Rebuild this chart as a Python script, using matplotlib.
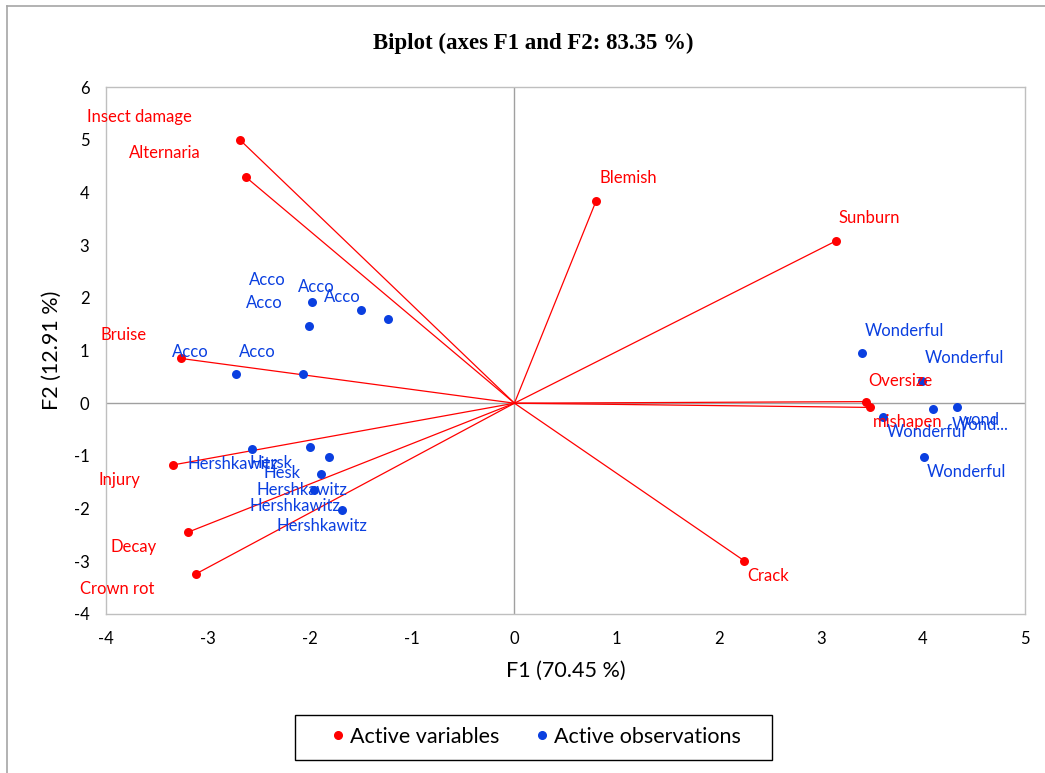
import matplotlib
matplotlib.use("Agg")
import matplotlib.pyplot as plt
from matplotlib.lines import Line2D
from matplotlib.patches import Rectangle

plt.rcParams["axes.unicode_minus"] = False

# ---------------- data ----------------
var_names = ["Insect damage", "Alternaria", "Blemish", "Sunburn", "Bruise",
             "Oversize", "mishapen", "Injury", "Decay", "Crown rot", "Crack"]
var_f1 = [-2.69, -2.63, 0.80, 3.15, -3.27, 3.44, 3.48, -3.34, -3.20, -3.12, 2.25]
var_f2 = [5.00, 4.29, 3.84, 3.08, 0.85, 0.03, -0.08, -1.17, -2.45, -3.24, -2.99]

obs_names = ["Acco", "Acco", "Acco", "Acco", "Acco", "Acco",
             "Hershkawitz", "Hersk", "Hesk", "Hershkawitz", "Hershkawitz", "Hershkawitz",
             "Wonderful", "Wonderful", "Wonderful", "Wond...", "wond", "Wonderful"]
obs_f1 = [-1.98, -1.50, -1.24, -2.01, -2.73, -2.07,
          -2.57, -2.00, -1.82, -1.89, -1.96, -1.69,
          3.40, 3.99, 3.61, 4.10, 4.33, 4.01]
obs_f2 = [1.92, 1.77, 1.59, 1.47, 0.56, 0.55,
          -0.87, -0.83, -1.02, -1.34, -1.65, -2.03,
          0.95, 0.42, -0.26, -0.11, -0.07, -1.02]

x_ticks = [-4, -3, -2, -1, 0, 1, 2, 3, 4, 5]
y_ticks = [-4, -3, -2, -1, 0, 1, 2, 3, 4, 5, 6]

title = "Biplot (axes F1 and F2: 83.35 %)"
xlabel = "F1 (70.45 %)"
ylabel = "F2 (12.91 %)"
legend_labels = ["Active variables", "Active observations"]

# ---------------- label placement (pixels; dy positive = down) ----------------
var_lab_dx = [-48, -45, 3, 2, -34, 3, 3, -33, -31, -41, 3]
var_lab_dy = [-23, -24, -23, -23, -23, -21, 15, 15, 15, 15, 15]
var_lab_ha = ["right", "right", "left", "left", "right", "left", "left",
              "right", "right", "right", "left"]

obs_lab_dx = [-63, -63, -64, -63, -64, -64,
              -65, -61, -65, -65, -65, -65,
              3, 3, 4, 19, 2, 3]
obs_lab_dy = [-22, -23, -22, -23, -22, -22,
              15, 16, 16, 16, 16, 16,
              -22, -23, 15, 16, 13, 15]

RED = "#FF0000"
BLUE = "#0A3FE0"
SANS = ["Lato", "DejaVu Sans"]
LABEL_FS = 12

W, H = 1045, 773
fig = plt.figure(figsize=(W / 100, H / 100), dpi=100)
fig.patch.set_facecolor("white")

# outer chart border (left & top visible)
fig.add_artist(Line2D([7 / W, 7 / W], [0, 1 - 6 / H], transform=fig.transFigure,
                      color="#A6A6A6", lw=1.2))
fig.add_artist(Line2D([7 / W, 1], [1 - 6 / H, 1 - 6 / H], transform=fig.transFigure,
                      color="#A6A6A6", lw=1.2))

L, R, T, B = 106, 1025, 87, 614
ax = fig.add_axes([L / W, 1 - B / H, (R - L) / W, (B - T) / H])
ax.set_xlim(-4, 5)
ax.set_ylim(-4, 6)
for s in ax.spines.values():
    s.set_color("#BFBFBF")
    s.set_linewidth(1.0)
ax.axhline(0, color="#A0A0A0", lw=1.0, zorder=1)
ax.axvline(0, color="#A0A0A0", lw=1.0, zorder=1)

ax.set_xticks(x_ticks)
ax.set_yticks(y_ticks)
ax.tick_params(length=0, labelsize=12, pad=12, labelcolor="black")
for lab in ax.get_xticklabels() + ax.get_yticklabels():
    lab.set_family(SANS)

# vectors
for xv, yv in zip(var_f1, var_f2):
    ax.plot([0, xv], [0, yv], color=RED, lw=0.9, zorder=2)
ax.scatter(var_f1, var_f2, s=42, color=RED, zorder=4, linewidths=0)
ax.scatter(obs_f1, obs_f2, s=42, color=BLUE, zorder=3, linewidths=0)

for n, xv, yv, dx, dy, ha in zip(var_names, var_f1, var_f2, var_lab_dx, var_lab_dy, var_lab_ha):
    ax.annotate(n, (xv, yv), xytext=(dx, -dy), textcoords="offset pixels",
                ha=ha, va="center", color=RED, fontsize=LABEL_FS, family=SANS,
                annotation_clip=False, zorder=5)
for n, xv, yv, dx, dy in zip(obs_names, obs_f1, obs_f2, obs_lab_dx, obs_lab_dy):
    ax.annotate(n, (xv, yv), xytext=(dx, -dy), textcoords="offset pixels",
                ha="left", va="center", color=BLUE, fontsize=LABEL_FS, family=SANS,
                annotation_clip=False, zorder=5)

fig.text(533 / W, 1 - 43 / H, title, ha="center", va="center",
         family=["Liberation Serif", "DejaVu Serif"], fontweight="bold", fontsize=16.5)
fig.text(566 / W, 1 - 671 / H, xlabel, ha="center", va="center", family=SANS, fontsize=15.5)
fig.text(52 / W, 1 - 350 / H, ylabel, ha="center", va="center", rotation=90,
         family=SANS, fontsize=15.5)

# legend frame drawn separately, entries via legend
fig.add_artist(Rectangle((295 / W, 1 - 760 / H), (772 - 295) / W, 45 / H,
                         transform=fig.transFigure, facecolor="white",
                         edgecolor="black", lw=1.0))
handles = [Line2D([], [], ls="none", marker="o", ms=5.5, mfc=RED, mec=RED),
           Line2D([], [], ls="none", marker="o", ms=5.5, mfc=BLUE, mec=BLUE)]
leg = fig.legend(handles, legend_labels, ncol=2,
                 loc="center", bbox_to_anchor=(535 / W, 1 - 737 / H),
                 frameon=False, prop={"family": SANS, "size": 15.5},
                 handletextpad=0.15, handlelength=0.8, columnspacing=1.6,
                 borderpad=0.3, borderaxespad=0)

fig.savefig("out.png", dpi=100, facecolor="white")
